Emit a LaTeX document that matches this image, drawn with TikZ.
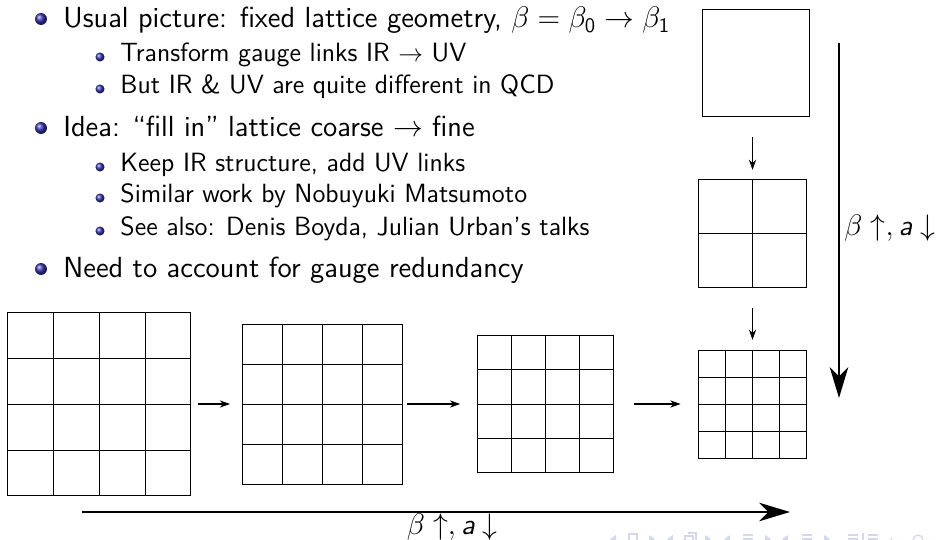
\documentclass[tikz,border=0pt]{standalone}
\usepackage{amsmath}
\usetikzlibrary{arrows.meta, calc}

\definecolor{structblue}{rgb}{0.2,0.2,0.7}
\definecolor{navgray}{rgb}{0.84,0.84,0.93}

% inner links of a lattice node: #1 node name, #2 cells per side
\newcommand{\latlines}[2]{%
  \pgfmathtruncatemacro{\nm}{#2-1}%
  \foreach \k in {1,...,\nm}{%
    \draw[line width=0.45pt] ($(#1.north west)!\k/#2!(#1.north east)$) -- ($(#1.south west)!\k/#2!(#1.south east)$);
    \draw[line width=0.45pt] ($(#1.north west)!\k/#2!(#1.south west)$) -- ($(#1.north east)!\k/#2!(#1.south east)$);
  }%
}

\begin{document}
\begin{tikzpicture}[x=0.485pt, y=-0.485pt,
    lattice/.style={draw, line width=0.45pt, minimum size=#1, inner sep=0pt, outer sep=0pt},
    mainitem/.style={anchor=base west, inner sep=0pt, font=\fontsize{14.1}{17}\selectfont\sffamily},
    subitem/.style={anchor=base west, inner sep=0pt, font=\fontsize{12.8}{15.4}\selectfont\sffamily},
    link/.style={-{Stealth[length=5pt, width=3.5pt]}, line width=0.5pt},
    flow/.style={-{Stealth[length=15pt, width=9pt, inset=4.5pt]}, line width=1.3pt},
    flowlabel/.style={font=\fontsize{14.1}{17}\selectfont, inner sep=2pt},
    nav/.style={navgray, line width=0.6pt}
]
    \useasboundingbox (0,0) rectangle (938,540);

    % Bullet text
    \node[mainitem] (usual) at (63,28) {Usual picture: fixed lattice geometry, $\beta=\beta_{\mathsf{0}}\to\beta_{\mathsf{1}}$};
    \node[subitem] (transform) at (120,62) {Transform gauge links IR $\to$ UV};
    \node[subitem] (different) at (120,94) {But IR \& UV are quite different in QCD};
    \node[mainitem] (idea) at (63,137) {Idea: ``fill in'' lattice coarse $\to$ fine};
    \node[subitem] (keep) at (120,172) {Keep IR structure, add UV links};
    \node[subitem] (similar) at (120,203) {Similar work by Nobuyuki Matsumoto};
    \node[subitem] (seealso) at (120,236) {See also: Denis Boyda, Julian Urban's talks};
    \node[mainitem] (redundancy) at (63,278) {Need to account for gauge redundancy};

    \foreach \y in {28,137,278}
        \shade[ball color=structblue] (41,\y-9) circle (2.9pt);
    \foreach \y in {62,94,172,203,236}
        \shade[ball color=structblue] (100,\y-5) circle (2.2pt);

    % Lattices, coarse to fine
    \node[lattice=89.2pt] (latA) at (99,404) {};
    \node[lattice=77.6pt] (latB) at (322,404) {};
    \node[lattice=66.4pt] (latC) at (545.5,404) {};
    \node[lattice=52.4pt] (latD) at (752.5,404) {};
    \latlines{latA}{4}
    \latlines{latB}{4}
    \latlines{latC}{4}
    \latlines{latD}{4}

    % Filling in, top right
    \node[lattice=51.9pt] (fill1) at (755.5,62.5) {};
    \node[lattice=52.4pt] (fill2) at (752.5,233) {};
    \latlines{fill2}{2}

    % Steps
    \draw[link, shorten <=3.4pt, shorten >=5.8pt] (latA) -- (latB);
    \draw[link, shorten <=2.4pt, shorten >=8.2pt] (latB) -- (latC);
    \draw[link, shorten <=9.7pt, shorten >=8.7pt] (latC) -- (latD);
    \draw[link, shorten <=10.2pt, shorten >=4.4pt] (fill1.south -| fill2) -- (fill2);
    \draw[link, shorten <=10.2pt, shorten >=4.9pt] (fill2) -- (latD);

    % Coupling / spacing direction
    \coordinate (vtop) at (839,43);
    \coordinate (vbot) at (839,398);
    \coordinate (hleft) at (82,512);
    \coordinate (hright) at (790,512);
    \draw[flow] (vtop) -- node[flowlabel, right, pos=0.52] {$\beta\uparrow,\text{\sffamily\itshape a}\downarrow$} (vbot);
    \draw[flow] (hleft) -- node[flowlabel, below, inner sep=0.3pt, pos=0.523] {$\beta\uparrow,\text{\sffamily\itshape a}\downarrow$} (hright);

    % Navigation symbols
    \foreach \x in {613,670,727,785}
        \fill[nav] (\x+3,535) -- (\x-3,539) -- (\x+3,543) -- cycle;
    \foreach \x in {652,708,768,827}
        \fill[nav] (\x-3,535) -- (\x+3,539) -- (\x-3,543) -- cycle;
    \draw[nav] (629,534) rectangle (637,545);
    \draw[nav] (685,536) rectangle (693,545) (688,533) -- (696,533) -- (696,541);
    \foreach \x in {748,807,853,873}
        \draw[nav] (\x-5,535) -- (\x+5,535) (\x-5,539) -- (\x+5,539);
    \draw[nav] (863,533) -- (863,545);
    \draw[nav] (903,540) arc (0:200:6);
    \draw[nav] (918,540) circle (5);
    \draw[nav] (932,540) arc (180:-20:6);
\end{tikzpicture}
\end{document}
